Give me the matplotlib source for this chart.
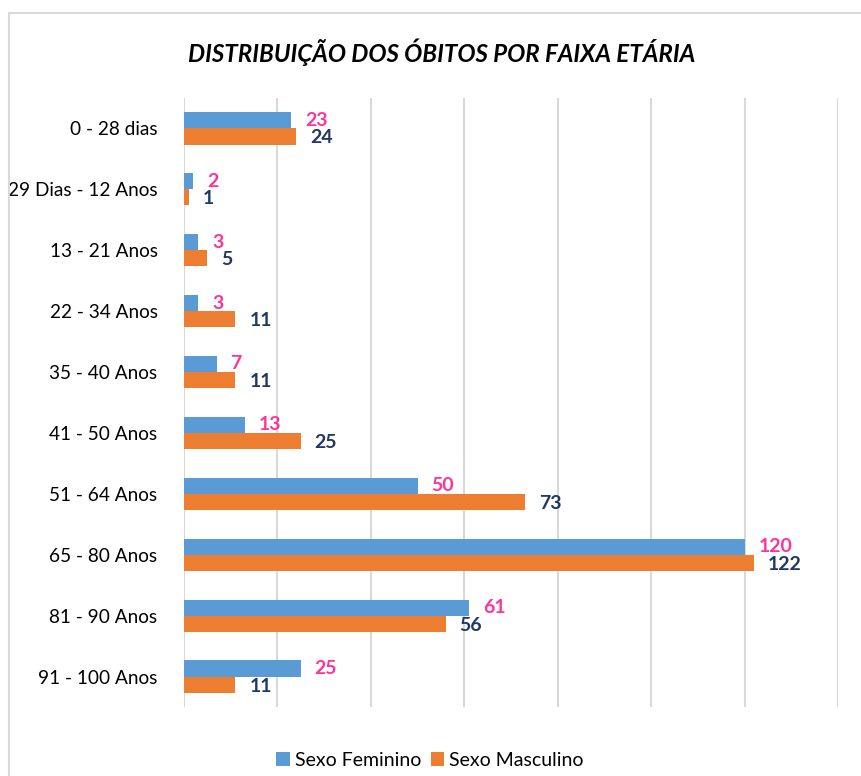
import numpy as np
import matplotlib.pyplot as plt
from matplotlib.patches import Rectangle

plt.rcParams['font.family'] = ['Lato', 'DejaVu Sans']

# data
faixas = ["0 - 28 dias", "29 Dias - 12 Anos", "13 - 21 Anos", "22 - 34 Anos",
          "35 - 40 Anos", "41 - 50 Anos", "51 - 64 Anos", "65 - 80 Anos",
          "81 - 90 Anos", "91 - 100 Anos"]
feminino = [23, 2, 3, 3, 7, 13, 50, 120, 61, 25]
masculino = [24, 1, 5, 11, 11, 25, 73, 122, 56, 11]

azul = "#5B9BD5"
laranja = "#ED7D31"
rosa = "#FF3399"
marinho = "#1F3864"

fig = plt.figure(figsize=(8.62, 7.76), dpi=100)
fig.patches.append(Rectangle((9 / 862, -0.05), 1.1, 1 - 13 / 776 + 0.05,
                             transform=fig.transFigure, fill=False,
                             edgecolor="#D9D9D9", linewidth=1.5))
ax = fig.add_axes([184 / 862, 1 - 707 / 776, (838 - 184) / 862, (707 - 98) / 776])

y = np.arange(len(faixas))
h = 0.265
ax.barh(y - h / 2, feminino, height=h, color=azul, label="Sexo Feminino")
ax.barh(y + h / 2, masculino, height=h, color=laranja, label="Sexo Masculino")

# data labels
for i in range(len(faixas)):
    ax.annotate(str(feminino[i]), (feminino[i], y[i] - h / 2), xytext=(10, 0),
                textcoords="offset points", va="center", ha="left",
                color=rosa, fontsize=14, fontweight="bold")
    ax.annotate(str(masculino[i]), (masculino[i], y[i] + h / 2), xytext=(10, -1),
                textcoords="offset points", va="center", ha="left",
                color=marinho, fontsize=14, fontweight="bold")

ax.set_xlim(0, 140)
ax.set_ylim(len(faixas) - 0.5, -0.5)
ax.set_xticks(np.arange(0, 141, 20))
ax.set_xticklabels([])
ax.tick_params(axis="x", length=0)
ax.tick_params(axis="y", length=0, pad=19, labelsize=13.7)
ax.set_yticks(y)
ax.set_yticklabels(faixas)
ax.grid(axis="x", color="#D9D9D9", linewidth=1.5)
ax.set_axisbelow(True)
for s in ax.spines.values():
    s.set_visible(False)

fig.text(442 / 862, 1 - 52 / 776, "DISTRIBUIÇÃO DOS ÓBITOS POR FAIXA ETÁRIA",
         ha="center", va="center", fontsize=17.4, fontweight="bold", style="italic")

fig.legend(loc="center", bbox_to_anchor=(430 / 862, 1 - 760 / 776), ncol=2,
           frameon=False, fontsize=14, handlelength=0.7, handleheight=0.7,
           handletextpad=0.25, columnspacing=0.5)

plt.savefig("out.png", dpi=100)
